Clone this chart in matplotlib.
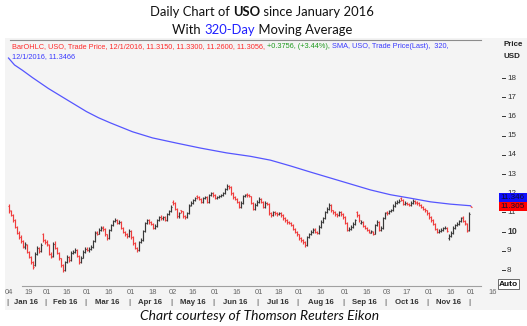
import matplotlib
matplotlib.use("Agg")
import matplotlib.pyplot as plt
import matplotlib.transforms as mtransforms
from matplotlib.patches import Rectangle
from matplotlib.lines import Line2D
import numpy as np

W, H = 527, 326

# daily OHLC bars, one value per trading day from 4 Jan 2016 to 1 Dec 2016
opens = [
    11.35, 11.05, 10.85, 10.60, 10.25, 9.95, 9.72, 9.50, 9.20, 9.30, 8.95, 8.70, 8.40, 8.25, 8.85, 9.15, 9.00, 9.85, 9.55,
    9.45, 9.30, 8.85, 8.75, 9.35, 9.15, 8.90, 8.60, 8.25, 8.00, 8.40, 8.70, 8.50, 8.90, 8.95, 9.05, 8.75, 8.40, 8.65, 8.95,
    9.10, 9.05, 9.10, 9.20, 9.50, 10.00, 9.90, 10.10, 10.25, 10.15, 9.85, 9.65, 10.10, 10.35, 10.55, 10.62, 10.45, 10.50, 10.20, 10.00, 9.85, 9.75,
    10.05, 9.70, 9.40, 9.15, 9.05, 9.45, 9.55, 10.05, 10.45, 10.60, 10.50, 10.40, 10.20, 10.30, 10.60, 10.78, 10.70, 10.78, 10.60, 10.90, 11.05,
    11.55, 11.50, 11.20, 10.80, 11.10, 11.05, 10.80, 10.75, 10.95, 11.40, 11.50, 11.65, 11.85, 11.80, 11.70, 11.55, 11.75, 11.80, 11.55, 11.90, 12.00,
    11.90, 11.75, 11.80, 11.85, 11.90, 12.00, 12.20, 12.40, 12.30, 12.00, 11.80, 11.70, 11.55, 11.30, 11.50, 11.85, 11.95, 11.90, 11.85, 11.50, 11.20, 11.40,
    11.55, 11.70, 11.55, 11.30, 11.50, 11.45, 10.95, 10.85, 11.00, 10.95, 10.90, 10.95, 10.85, 10.70, 10.60, 10.50, 10.45, 10.35, 10.15, 10.00,
    9.85, 9.65, 9.55, 9.45, 9.30, 9.70, 9.85, 10.00, 10.15, 10.00, 9.95, 10.25, 10.50, 10.70, 11.00, 11.20, 11.40, 11.10, 11.00, 10.90, 10.85, 11.00, 10.90,
    10.75, 10.45, 10.10, 10.15, 10.25, 10.40, 11.00, 10.85, 10.45, 10.50, 10.30, 10.20, 10.10, 9.95, 10.00, 9.90, 10.35, 10.50, 10.10, 10.20, 10.70,
    11.00, 10.95, 11.05, 11.10, 11.35, 11.50, 11.55, 11.75, 11.65, 11.45, 11.50, 11.45, 11.40, 11.50, 11.60, 11.55, 11.48, 11.40, 11.30, 11.20, 11.10,
    10.95, 10.75, 10.60, 10.40, 10.15, 10.00, 10.05, 10.10, 10.18, 10.20, 9.65, 9.75, 9.95, 10.20, 10.35, 10.40, 10.55, 10.75, 10.55, 10.40, 10.10,
    11.315,
]
highs = [
    11.42, 11.12, 10.90, 10.65, 10.30, 10.02, 9.80, 9.55, 9.45, 9.35, 9.00, 8.75, 8.45, 8.92, 9.25, 9.20, 9.40, 9.92, 9.62,
    9.55, 9.35, 8.95, 9.45, 9.50, 9.20, 8.95, 8.65, 8.30, 8.45, 8.78, 8.75, 8.98, 9.05, 9.12, 9.08, 8.80, 8.72, 9.02, 9.18,
    9.20, 9.18, 9.30, 9.58, 10.02, 10.05, 10.18, 10.28, 10.30, 10.18, 9.90, 10.15, 10.42, 10.62, 10.70, 10.68, 10.58, 10.55, 10.25, 10.05, 9.92, 10.12,
    10.08, 9.75, 9.45, 9.20, 9.52, 9.65, 10.10, 10.52, 10.68, 10.65, 10.55, 10.45, 10.38, 10.68, 10.82, 10.85, 10.82, 10.82, 10.98, 11.12, 11.38,
    11.62, 11.55, 11.25, 11.02, 11.15, 11.08, 10.85, 11.02, 11.42, 11.58, 11.72, 11.82, 11.90, 11.85, 11.75, 11.82, 11.88, 11.85, 11.98, 12.08, 12.05,
    11.95, 11.88, 11.92, 11.98, 12.08, 12.28, 12.48, 12.45, 12.35, 12.05, 11.85, 11.75, 11.60, 11.58, 11.92, 11.98, 12.00, 11.95, 11.88, 11.55, 11.48, 11.62,
    11.80, 11.75, 11.60, 11.58, 11.55, 11.48, 11.00, 11.08, 11.05, 11.00, 11.02, 11.00, 10.90, 10.75, 10.65, 10.55, 10.50, 10.40, 10.20, 10.05,
    9.90, 9.72, 9.62, 9.50, 9.78, 9.92, 10.08, 10.18, 10.20, 10.05, 10.32, 10.58, 10.78, 11.08, 11.28, 11.48, 11.45, 11.15, 11.05, 10.95, 11.08, 11.05, 10.95,
    10.80, 10.50, 10.22, 10.32, 10.48, 10.68, 11.05, 10.90, 10.58, 10.55, 10.35, 10.25, 10.15, 10.08, 10.05, 10.42, 10.58, 10.55, 10.28, 10.78, 11.02,
    11.05, 11.12, 11.18, 11.42, 11.58, 11.62, 11.68, 11.78, 11.70, 11.58, 11.55, 11.50, 11.58, 11.70, 11.65, 11.60, 11.52, 11.45, 11.35, 11.25, 11.15,
    11.00, 10.80, 10.65, 10.45, 10.20, 10.12, 10.18, 10.25, 10.28, 10.25, 9.85, 10.02, 10.28, 10.42, 10.48, 10.62, 10.78, 10.80, 10.60, 10.45, 11.00,
    11.33,
]
lows = [
    10.95, 10.80, 10.52, 10.18, 9.88, 9.62, 9.42, 9.15, 9.10, 8.88, 8.60, 8.30, 8.05, 8.20, 8.80, 8.90, 8.95, 9.45, 9.38,
    9.25, 8.78, 8.62, 8.70, 9.08, 8.85, 8.52, 8.18, 7.90, 7.95, 8.35, 8.42, 8.45, 8.82, 8.88, 8.70, 8.32, 8.35, 8.60, 8.90,
    8.98, 8.95, 9.05, 9.15, 9.45, 9.82, 9.85, 10.05, 10.05, 9.78, 9.58, 9.60, 10.05, 10.30, 10.48, 10.38, 10.40, 10.15, 9.92, 9.78, 9.68, 9.70,
    9.62, 9.32, 9.08, 8.95, 9.00, 9.40, 9.50, 10.00, 10.40, 10.42, 10.32, 10.12, 10.12, 10.25, 10.55, 10.62, 10.62, 10.55, 10.55, 10.85, 11.00,
    11.40, 11.12, 10.72, 10.72, 10.95, 10.72, 10.68, 10.70, 10.90, 11.35, 11.45, 11.60, 11.72, 11.62, 11.50, 11.50, 11.70, 11.48, 11.50, 11.85, 11.82,
    11.68, 11.70, 11.75, 11.80, 11.85, 11.95, 12.15, 12.22, 11.92, 11.72, 11.62, 11.48, 11.22, 11.25, 11.45, 11.80, 11.82, 11.78, 11.42, 11.12, 11.15, 11.35,
    11.50, 11.48, 11.22, 11.25, 11.38, 10.88, 10.78, 10.80, 10.88, 10.82, 10.85, 10.78, 10.62, 10.52, 10.42, 10.38, 10.28, 10.08, 9.92, 9.78,
    9.58, 9.48, 9.38, 9.22, 9.25, 9.65, 9.80, 9.95, 9.92, 9.88, 9.90, 10.20, 10.45, 10.65, 10.95, 11.15, 11.02, 10.92, 10.82, 10.78, 10.80, 10.82, 10.68,
    10.38, 10.02, 10.05, 10.10, 10.20, 10.35, 10.78, 10.52, 10.40, 10.22, 10.12, 10.02, 9.92, 9.92, 9.82, 9.85, 10.30, 10.02, 10.05, 10.15, 10.65,
    10.88, 10.90, 11.00, 11.05, 11.30, 11.45, 11.50, 11.58, 11.38, 11.40, 11.38, 11.32, 11.35, 11.45, 11.42, 11.40, 11.32, 11.22, 11.12, 11.02, 10.88,
    10.68, 10.52, 10.32, 10.08, 9.92, 9.95, 10.00, 10.05, 10.12, 9.98, 9.58, 9.70, 9.90, 10.15, 10.30, 10.35, 10.50, 10.48, 10.35, 9.98, 10.05,
    11.26,
]
closes = [
    11.10, 10.85, 10.60, 10.25, 9.95, 9.70, 9.50, 9.25, 9.35, 8.95, 8.70, 8.40, 8.15, 8.85, 9.15, 9.00, 9.30, 9.55, 9.45,
    9.35, 8.85, 8.70, 9.35, 9.15, 8.90, 8.60, 8.25, 8.00, 8.40, 8.70, 8.50, 8.90, 8.95, 9.05, 8.75, 8.40, 8.65, 8.95, 9.10,
    9.05, 9.10, 9.20, 9.50, 9.95, 9.90, 10.10, 10.20, 10.15, 9.85, 9.65, 10.10, 10.35, 10.55, 10.60, 10.45, 10.50, 10.20, 10.00, 9.85, 9.75, 10.05,
    9.70, 9.40, 9.15, 9.05, 9.45, 9.55, 10.05, 10.45, 10.60, 10.50, 10.40, 10.20, 10.30, 10.60, 10.75, 10.70, 10.75, 10.60, 10.90, 11.05, 11.30,
    11.50, 11.20, 10.80, 10.95, 11.05, 10.80, 10.75, 10.95, 11.35, 11.50, 11.65, 11.75, 11.80, 11.70, 11.55, 11.75, 11.80, 11.55, 11.90, 12.00, 11.90,
    11.75, 11.80, 11.85, 11.90, 12.00, 12.20, 12.40, 12.30, 12.00, 11.80, 11.70, 11.55, 11.30, 11.50, 11.85, 11.90, 11.90, 11.85, 11.50, 11.20, 11.40, 11.55,
    11.70, 11.55, 11.30, 11.50, 11.45, 10.95, 10.85, 11.00, 10.95, 10.90, 10.95, 10.85, 10.70, 10.60, 10.50, 10.45, 10.35, 10.15, 10.00, 9.85,
    9.65, 9.55, 9.45, 9.30, 9.70, 9.85, 10.00, 10.10, 10.00, 9.95, 10.25, 10.50, 10.70, 11.00, 11.20, 11.40, 11.10, 11.00, 10.90, 10.85, 11.00, 10.90, 10.75,
    10.45, 10.10, 10.15, 10.25, 10.40, 10.60, 10.85, 10.60, 10.50, 10.30, 10.20, 10.10, 10.00, 10.02, 9.90, 10.35, 10.50, 10.10, 10.20, 10.70, 10.95,
    10.95, 11.05, 11.10, 11.35, 11.50, 11.55, 11.60, 11.65, 11.45, 11.50, 11.45, 11.40, 11.50, 11.60, 11.50, 11.48, 11.40, 11.30, 11.20, 11.10, 10.95,
    10.75, 10.60, 10.40, 10.15, 10.00, 10.05, 10.10, 10.18, 10.20, 10.05, 9.75, 9.95, 10.20, 10.35, 10.40, 10.55, 10.70, 10.55, 10.45, 10.05, 10.93,
    11.3056,
]

# 320-day simple moving average (trading-day index, value)
sma_idx = [0, 3, 7, 12, 20, 29, 39, 45, 51, 62, 72, 84, 96, 109, 121, 131, 141, 151, 161, 171, 181, 191, 201, 211, 221, 231]
sma_val = [19.04, 18.68, 18.40, 18.02, 17.45, 16.88, 16.25, 15.93, 15.66, 15.20, 14.88, 14.61, 14.35, 14.10,
           13.92, 13.72, 13.42, 13.10, 12.79, 12.48, 12.17, 11.92, 11.74, 11.55, 11.43, 11.3466]

# date scale
day_idx = [0, 10, 19, 29, 39, 50, 61, 72, 82, 92, 103, 114, 125, 135, 145, 156, 168, 179, 189, 199, 210, 221, 231, 242]
day_lab = ["04", "19", "01", "16", "01", "16", "01", "18", "02", "16", "01", "16",
           "01", "18", "01", "16", "01", "16", "03", "17", "01", "16", "01", "16"]
month_start = [0, 19, 39, 61, 82, 103, 125, 145, 168, 189, 210, 231]
month_lab = ["Jan 16", "Feb 16", "Mar 16", "Apr 16", "May 16", "Jun 16",
             "Jul 16", "Aug 16", "Sep 16", "Oct 16", "Nov 16"]
price_ticks = [8, 9, 10, 11, 12, 13, 14, 15, 16, 17, 18]

assert len(opens) == len(highs) == len(lows) == len(closes) == 232

RED = "#f03c3c"
DARK = "#383838"
SMA_BLUE = "#5555ff"
TXT_FONT = "Liberation Sans"

fig = plt.figure(figsize=(W / 100, H / 100), dpi=100)
fig.patch.set_facecolor("white")


def fx(px):
    return px / W


def fy(py):
    return 1 - py / H


# light background of the chart window
fig.patches.append(Rectangle((fx(5), fy(310)), fx(527) - fx(5), fy(38) - fy(310),
                             transform=fig.transFigure, facecolor="#f4f4f4",
                             edgecolor="none", zorder=-10))

ax = fig.add_axes([fx(5), fy(286), (481 - 5) / W, (286 - 40) / H])
ax.set_facecolor("none")
for sp in ax.spines.values():
    sp.set_visible(False)
ax.set_xticks([])
ax.set_yticks([])
x0, step = 8.5, 2.0          # pixel of first bar, pixels per trading day
ppu = 19.2                   # pixels per dollar, 18 sits at pixel row 78
ax.set_xlim((5 - x0) / step, (481 - x0) / step)
ax.set_ylim(18 - (286 - 78) / ppu, 18 + (78 - 40) / ppu)

o = np.array(opens)
hi = np.array(highs)
lo = np.array(lows)
c = np.array(closes)
idx = np.arange(len(c))
cols = np.where(c < o, RED, DARK)

ax.vlines(idx, lo, hi, colors=cols, lw=0.85)
ax.hlines(o, idx - 0.5, idx, colors=cols, lw=0.8)
ax.hlines(c, idx, idx + 0.5, colors=cols, lw=0.8)
ax.plot(sma_idx, sma_val, color=SMA_BLUE, lw=0.9)

# frame lines
fig.add_artist(Line2D([fx(10), fx(481)], [fy(40), fy(40)], color="#8c8c8c", lw=0.8))
fig.add_artist(Line2D([fx(22), fx(481)], [fy(285.5), fy(285.5)], color="#a0a0a0", lw=0.8))

renderer = fig.canvas.get_renderer()


def text_width(s, **kw):
    # width in pixels, measured with a trailing dot so spaces count
    t1 = fig.text(0, 0, s + ".", **kw)
    t2 = fig.text(0, 0, ".", **kw)
    w = t1.get_window_extent(renderer).width - t2.get_window_extent(renderer).width
    t1.remove()
    t2.remove()
    return w


def runs(x, y, parts, center=False, **kw):
    widths = [text_width(s, **{**kw, **p}) for s, p in parts]
    if center:
        x = x - sum(widths) / 2
    for (s, p), w in zip(parts, widths):
        fig.text(fx(x), fy(y), s, va="center", ha="left", **{**kw, **p})
        x += w


# title
runs(262, 12, [("Daily Chart of ", {}), ("USO", {"weight": "bold"}),
               (" since January 2016", {})],
     center=True, family="Lato", size=9.4, color="#111111")
runs(262, 30, [("With ", {}), ("320-Day", {"color": "#2020ff"}),
               (" Moving Average", {})],
     center=True, family="Lato", size=9.4, color="#111111")

# legend header
chg = closes[-1] - closes[-2]
pct = chg / closes[-2] * 100
head = dict(family=TXT_FONT, size=5.35)
runs(12, 47, [
    (f"BarOHLC, USO, Trade Price, 12/1/2016, {opens[-1]:.4f}, {highs[-1]:.4f}, "
     f"{lows[-1]:.4f}, {closes[-1]:.4f}, ", {"color": "#ff2a2a"}),
    (f"+{chg:.4f}, (+{pct:.2f}%), ", {"color": "#1f9a1f"}),
    ("SMA, USO, Trade Price(Last),  320,", {"color": "#3a3aff"}),
], **head)
runs(12, 57, [(f"12/1/2016, {sma_val[-1]:.4f}", {"color": "#3a3aff"})], **head)

# date labels
bx = mtransforms.blended_transform_factory(ax.transData, fig.transFigure)
for i, s in zip(day_idx, day_lab):
    ax.text(i, fy(293), s, transform=bx, ha="center", va="center",
            family=TXT_FONT, size=5.4, color="#666666", clip_on=False)
for k, m in enumerate(month_lab):
    a, b = month_start[k], month_start[k + 1]
    ax.text(a - 0.6, fy(302), "|", transform=bx, ha="center", va="center",
            family=TXT_FONT, size=6, color="#333333", clip_on=False)
    ax.text((a + b) / 2 - 0.5, fy(302), m, transform=bx, ha="center", va="center",
            family=TXT_FONT, size=5.6, weight="bold", color="#333333", clip_on=False)
ax.text(month_start[-1] - 0.6, fy(302), "|", transform=bx, ha="center", va="center",
        family=TXT_FONT, size=6, color="#333333", clip_on=False)

# price scale on the right
by = mtransforms.blended_transform_factory(fig.transFigure, ax.transData)
for v in price_ticks:
    fig.add_artist(Line2D([fx(502), fx(505)], [v, v], transform=by, color="#333333", lw=0.7))
    fig.text(fx(507), v, str(v), transform=by, ha="left", va="center", family=TXT_FONT,
             size=5.8 if v != 10 else 6.2, weight="bold" if v == 10 else "normal",
             color="#333333", zorder=1)
fig.text(fx(503), fy(45), "Price", family=TXT_FONT, size=5.8, weight="bold",
         color="#222222", va="center")
fig.text(fx(503), fy(56), "USD", family=TXT_FONT, size=5.8, weight="bold",
         color="#222222", va="center")

# last-value markers
box_h = 9.2 / ppu
for val, face, y_off in [(closes[-1], "#ff0000", 0.0), (sma_val[-1], "#1010ff", box_h)]:
    yc = closes[-1] + y_off
    fig.patches.append(Rectangle((fx(499), yc - box_h / 2), fx(527) - fx(499), box_h,
                                 transform=by, facecolor=face, edgecolor="none", zorder=3))
    fig.text(fx(500), yc, f"{int(val * 1000) / 1000:.3f}", transform=by, ha="left",
             va="center", family=TXT_FONT, size=5.9, color="#101030", zorder=4)

fig.text(fx(499), fy(284), "Auto", family=TXT_FONT, size=6, weight="bold",
         color="#111111", va="center", ha="left",
         bbox=dict(boxstyle="square,pad=0.15", facecolor="white", edgecolor="#555555", lw=0.6))

# caption
fig.text(fx(260), fy(316), "Chart courtesy of Thomson Reuters Eikon", family="Lato",
         style="italic", size=10, color="#111111", ha="center", va="center")

fig.savefig("out.png", dpi=100)
